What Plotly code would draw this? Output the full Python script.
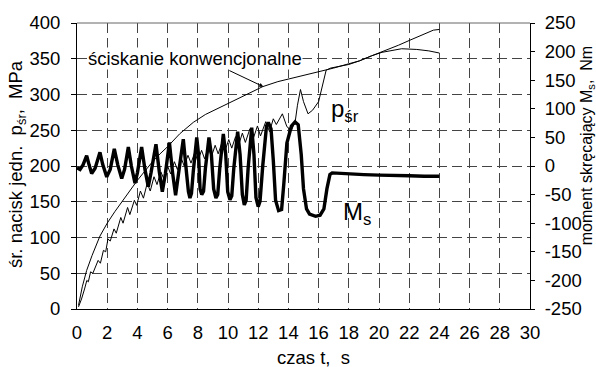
import plotly.graph_objects as go

# --- data ---
conv_t = [0.1, 0.35, 0.64, 1.0, 1.52, 2.0, 2.5, 2.96, 3.5, 4.0, 4.5, 5.0, 5.5, 6.0, 6.8, 7.7, 8.5, 9.9,
          11.0, 12.3, 13.3, 14.3, 15.2, 16.1, 17.0, 18.0, 18.7, 19.5, 20.5, 21.3, 22.05, 22.8, 23.6, 24.0]
conv_p = [5, 31, 54, 75, 102, 120, 136, 150, 166, 180, 193, 206, 217, 227, 245, 261, 272, 286,
          298, 311, 318, 323, 328, 332, 337, 343, 347, 354, 362, 369, 376, 383, 390, 391]

psr_t = [0.1, 0.3, 0.5, 0.65, 0.75, 0.9, 1.05, 1.25, 1.4, 1.55, 1.75, 1.9, 2.05, 2.2, 2.45, 2.6, 2.9, 3.05,
         3.35, 3.5, 3.8, 3.95, 4.2, 4.4, 4.65, 4.85, 5.1, 5.3, 5.55, 5.75, 6.0, 6.2, 6.45, 6.65, 6.9, 7.1,
         7.35, 7.55, 7.8, 8.0, 8.25, 8.45, 8.7, 8.9, 9.15, 9.35, 9.6, 9.8, 10.05, 10.25, 10.5, 10.7,
         10.95, 11.15, 11.45, 11.65, 11.95, 12.15, 12.5, 12.75, 13.0, 13.2, 13.6, 13.9, 14.2, 14.45,
         14.6, 14.8, 15.0, 15.3, 15.6, 16.0, 16.3, 16.5, 16.8, 17.2, 18.0, 18.7, 19.5, 20.2, 20.9,
         21.5, 22.5, 23.3, 24.0]
psr_p = [3, 14, 28, 40, 38, 52, 50, 62, 68, 64, 82, 80, 98, 95, 112, 106, 128, 120,
         142, 132, 152, 145, 165, 155, 176, 165, 185, 174, 192, 182, 200, 189, 206, 195, 211, 200,
         215, 204, 219, 207, 222, 210, 226, 213, 229, 217, 233, 221, 237, 225, 241, 229,
         246, 233, 252, 237, 256, 242, 262, 248, 266, 258, 273, 255, 250, 262,
         285, 307, 290, 273, 278, 290, 315, 334, 337, 339, 342, 347, 354, 359, 362,
         364, 363, 361, 358]

ms_t = [0.0, 0.2, 0.4, 0.64, 0.8, 0.97, 1.2, 1.52, 1.7, 1.97, 2.2, 2.47, 2.7, 2.96, 3.15, 3.4, 3.6, 3.84,
        4.0, 4.28, 4.5, 4.72, 4.9, 5.23, 5.45, 5.65, 5.85, 6.12, 6.33, 6.53, 6.72, 7.04, 7.26,
        7.38, 7.48, 7.58, 7.7, 7.93, 8.05, 8.15, 8.26, 8.38, 8.5, 8.74, 8.9, 9.05, 9.2, 9.32, 9.45,
        9.69, 9.85, 9.98, 10.13, 10.25, 10.38, 10.64, 10.8, 10.95, 11.08, 11.2, 11.33, 11.57, 11.72,
        11.85, 12.0, 12.12, 12.3, 12.55, 12.67, 12.85, 13.0, 13.15, 13.35, 13.55, 13.7, 13.9, 14.2,
        14.44, 14.65, 14.85, 15.0, 15.2, 15.4, 15.8, 16.1, 16.35, 16.55, 16.75, 16.9,
        18.0, 19.0, 20.0, 21.0, 22.0, 23.0, 24.0]
ms_m = [-3, -6, 2, 18, 2, -13, -4, 24, 3, -19, -6, 30, 2, -22, -6, 33, 0, -30,
        -12, 33, -6, -36, -12, 38, -10, -45, -14, 41, -12, -51, -14, 47, -14,
        -45, -56, -48, -10, 50, 20, -40, -50, -44, -5, 50, 20, -40, -56, -50, -5,
        56, 20, -45, -59, -52, -5, 60, 20, -50, -68, -60, -5, 67, 20,
        -55, -71, -62, 0, 70, 76, 65, 10, -60, -78, -76, -30, 40, 70,
        77, 72, 20, -40, -75, -84, -88, -86, -75, -40, -15, -12,
        -14, -15, -16, -16, -17, -18, -18]

x_ticks = list(range(0, 31, 2))
y_ticks = list(range(0, 401, 50))
y2_ticks = list(range(-250, 251, 50))
y2_text = [str(v) for v in y2_ticks]

FONT = "Liberation Sans, Arial, sans-serif"
FS = 18.5
GRID = "#444444"

fig = go.Figure()
fig.add_trace(go.Scatter(x=conv_t, y=conv_p, mode="lines", line=dict(color="black", width=1), showlegend=False))
fig.add_trace(go.Scatter(x=psr_t, y=psr_p, mode="lines", line=dict(color="black", width=1), showlegend=False))
fig.add_trace(go.Scatter(x=ms_t, y=ms_m, mode="lines", yaxis="y2",
                         line=dict(color="black", width=3.4), showlegend=False))

fig.update_layout(
    width=596, height=367,
    margin=dict(l=77, r=66, t=19, b=58),
    paper_bgcolor="white", plot_bgcolor="white",
    font=dict(family=FONT, size=FS, color="black"),
    xaxis=dict(range=[0, 30], tickvals=x_ticks, showgrid=True, gridcolor=GRID, griddash="10px,5px",
               gridwidth=1, showline=True, linecolor="black", linewidth=1, ticks="", zeroline=False,
               ticklabelstandoff=7, tickfont=dict(size=FS)),
    yaxis=dict(range=[0, 400], tickvals=y_ticks, showgrid=True, gridcolor=GRID, griddash="10px,5px",
               gridwidth=1, showline=True, linecolor="black", linewidth=1, ticks="outside", ticklen=5,
               tickcolor="black", zeroline=False, ticklabelstandoff=7, tickfont=dict(size=FS)),
    yaxis2=dict(range=[-250, 250], tickvals=y2_ticks, ticktext=y2_text, overlaying="y", side="right",
                showgrid=False, showline=True, linecolor="black", linewidth=1, ticks="outside", ticklen=4,
                tickcolor="black", zeroline=False, ticklabelstandoff=6, tickfont=dict(size=FS)),
)

# top frame line
fig.add_shape(type="line", xref="paper", yref="paper", x0=0, x1=1, y0=1, y1=1,
              line=dict(color="#666666", width=1))

# annotations
fig.add_annotation(x=12.34, y=311, xref="x", yref="y", ax=-38, ay=-18, showarrow=True,
                   arrowhead=2, arrowsize=0.8, arrowwidth=1, arrowcolor="black", text=" ")
fig.add_annotation(x=0.65, y=350, xref="x", yref="y", xanchor="left", yanchor="middle",
                   text="ściskanie konwencjonalne", showarrow=False, bgcolor="white",
                   font=dict(size=FS), borderpad=0)
fig.add_annotation(x=16.7, y=277, xref="x", yref="y", xanchor="left", yanchor="middle",
                   text="p<sub>śr</sub>", showarrow=False, font=dict(size=24))
fig.add_annotation(x=17.5, y=134, xref="x", yref="y", xanchor="left", yanchor="middle",
                   text="M<sub>s</sub>", showarrow=False, font=dict(size=24))

# axis titles
pl, pr, pt, pb = 77, 530, 19, 309
def px_x(px):
    return (px - pl) / (pr - pl)
def px_y(py):
    return (pb - py) / (pb - pt)

fig.add_annotation(x=px_x(313), y=px_y(358), xref="paper", yref="paper", xanchor="center", yanchor="middle",
                   text="czas t,  s", showarrow=False, font=dict(size=FS))
fig.add_annotation(x=px_x(17), y=px_y(162), xref="paper", yref="paper", xanchor="center", yanchor="middle",
                   text="śr. nacisk jedn.  p<sub>śr</sub>,  MPa", textangle=-90, showarrow=False,
                   font=dict(size=FS))
fig.add_annotation(x=px_x(587), y=px_y(144), xref="paper", yref="paper", xanchor="center", yanchor="middle",
                   text="moment skręcający M<sub>s</sub>,  Nm", textangle=-90, showarrow=False,
                   font=dict(size=16))

fig.write_html("out.html")
